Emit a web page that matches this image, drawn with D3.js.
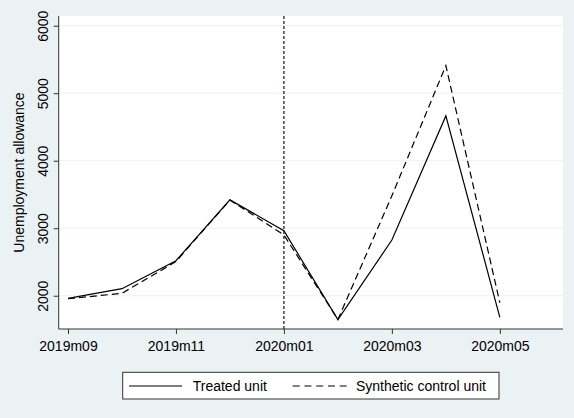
<!DOCTYPE html>
<html>
<head>
<meta charset="utf-8">
<script src="https://cdn.jsdelivr.net/npm/d3@7"></script>
<style>
html,body{margin:0;padding:0;background:#eaf2f3;}
svg{display:block;}
text{font-family:"Liberation Sans",Arial,sans-serif;fill:#000;}
</style>
</head>
<body>
<script>
const months = ["2019m09","2019m10","2019m11","2019m12","2020m01","2020m02","2020m03","2020m04","2020m05"];
const treated = [1962, 2104, 2518, 3420, 2963, 1645, 2825, 4664, 1680];
const synthetic = [1955, 2036, 2505, 3418, 2900, 1648, 3480, 5409, 1896];
const xTickLabels = ["2019m09","2019m11","2020m01","2020m03","2020m05"];
const yTicks = [2000, 3000, 4000, 5000, 6000];
const treatmentMonth = "2020m01";
const seriesNames = ["Treated unit", "Synthetic control unit"];

const W = 574, H = 418;
const svg = d3.select("body").append("svg").attr("width", W).attr("height", H);
svg.append("rect").attr("width", W).attr("height", H).attr("fill", "#eaf2f3");

const plot = {left: 58.7, right: 563, top: 16, bottom: 329};
const x = d3.scaleLinear().domain([-0.172, 9.17]).range([plot.left, plot.right]);
const y = d3.scaleLinear().domain([1507, 6144]).range([plot.bottom, plot.top]);
const xi = m => x(months.indexOf(m));

svg.append("rect").attr("x", plot.left).attr("y", plot.top)
  .attr("width", plot.right - plot.left).attr("height", plot.bottom - plot.top).attr("fill", "#fff");

// gridlines
svg.append("g").selectAll("line").data(yTicks).join("line")
  .attr("x1", plot.left).attr("x2", plot.right)
  .attr("y1", d => y(d)).attr("y2", d => y(d))
  .attr("stroke", "#eaf2f3").attr("stroke-width", 1);

// y axis
const yAxis = d3.axisLeft(y).tickValues(yTicks).tickFormat(d3.format("d"))
  .tickSize(5).tickPadding(6).tickSizeOuter(0);
const gy = svg.append("g").attr("transform", `translate(${plot.left},0)`).call(yAxis);
gy.select(".domain").attr("stroke", "#333").attr("d", `M0,${plot.top}V${plot.bottom}`);
gy.selectAll(".tick line").attr("stroke", "#333");
gy.selectAll(".tick text").attr("font-size", 14).attr("font-family", '"Liberation Sans",Arial,sans-serif')
  .attr("text-anchor", "middle").attr("x", 0).attr("y", 0).attr("dy", 0)
  .attr("transform", "translate(-10.5,0) rotate(-90)");

// x axis
const xAxis = d3.axisBottom(x).tickValues(xTickLabels.map(m => months.indexOf(m)))
  .tickFormat(i => months[i]).tickSize(5).tickPadding(7).tickSizeOuter(0);
const gx = svg.append("g").attr("transform", `translate(0,${plot.bottom})`).call(xAxis);
gx.select(".domain").attr("stroke", "#333").attr("d", `M${plot.left},0H${plot.right}`);
gx.selectAll(".tick line").attr("stroke", "#333");
gx.selectAll(".tick text").attr("font-size", 14).attr("font-family", '"Liberation Sans",Arial,sans-serif');

// y label
svg.append("text").attr("transform", `translate(24,${(plot.top + plot.bottom) / 2}) rotate(-90)`)
  .attr("text-anchor", "middle").attr("font-size", 14).text("Unemployment allowance");

// treatment line
svg.append("line").attr("x1", xi(treatmentMonth)).attr("x2", xi(treatmentMonth))
  .attr("y1", plot.top).attr("y2", plot.bottom)
  .attr("stroke", "#333").attr("stroke-width", 1.4).attr("stroke-dasharray", "3,2");

const line = d3.line().x((d, i) => x(i)).y(d => y(d));
svg.append("path").attr("d", line(synthetic)).attr("fill", "none")
  .attr("stroke", "#000").attr("stroke-width", 1.2).attr("stroke-dasharray", "7,4");
svg.append("path").attr("d", line(treated)).attr("fill", "none")
  .attr("stroke", "#000").attr("stroke-width", 1.2);

// legend
const lg = svg.append("g");
lg.append("rect").attr("x", 122.7).attr("y", 372.3).attr("width", 376.3).attr("height", 26.7)
  .attr("fill", "#fff").attr("stroke", "#333").attr("stroke-width", 1);
lg.append("line").attr("x1", 129).attr("x2", 182).attr("y1", 386).attr("y2", 386)
  .attr("stroke", "#000").attr("stroke-width", 1.2);
lg.append("text").attr("x", 192.7).attr("y", 391).attr("font-size", 14).text(seriesNames[0]);
lg.append("line").attr("x1", 292.7).attr("x2", 347).attr("y1", 386).attr("y2", 386)
  .attr("stroke", "#000").attr("stroke-width", 1.2).attr("stroke-dasharray", "7,4.75");
lg.append("text").attr("x", 356).attr("y", 391).attr("font-size", 14).text(seriesNames[1]);
</script>
</body>
</html>
